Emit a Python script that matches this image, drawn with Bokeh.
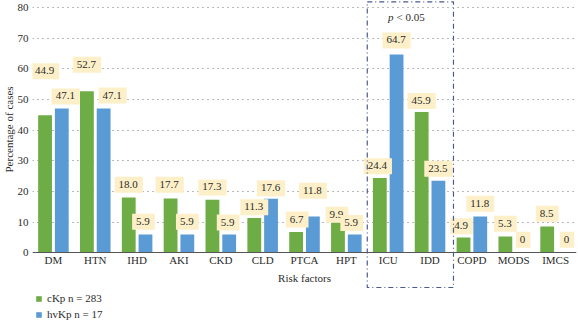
from bokeh.plotting import figure
from bokeh.models import (FactorRange, Range1d, FixedTicker, BoxAnnotation,
                          Legend, LegendItem, ColumnDataSource, CategoricalAxis, Title)
from bokeh.transform import dodge
from bokeh.core.properties import value
from bokeh.embed import file_html
from bokeh.resources import INLINE

# Share of cases per risk factor (%)
factors = ["DM", "HTN", "IHD", "AKI", "CKD", "CLD", "PTCA", "HPT",
           "ICU", "IDD", "COPD", "MODS", "IMCS"]
ckp = [44.9, 52.7, 18.0, 17.7, 17.3, 11.3, 6.7, 9.9, 24.4, 45.9, 4.9, 5.3, 8.5]
hvkp = [47.1, 47.1, 5.9, 5.9, 5.9, 17.6, 11.8, 5.9, 64.7, 23.5, 11.8, 0, 0]
y_ticks = [0, 10, 20, 30, 40, 50, 60, 70, 80]
series_names = ["cKp n = 283", "hvKp n = 17"]

# Placement of the value tags: lift above the bar (data units) and sideways nudge (px)
ckp_lift = [14.3, 8.7, 4.2, 4.5, 4.0, 3.5, 4.1, 2.5, 3.8, 3.6, 3.7, 4.1, 4.2]
hvkp_lift = [3.9, 4.2, 4.2, 4.2, 3.9, 3.4, 8.4, 3.8, 4.6, 3.9, 4.2, 4.2, 4.2]
ckp_nudge = [0, 0, 0, -1, 0, 0, 1, -1, -2, 0, -2, 0, 0]
hvkp_nudge = [4, 9, -2, 0, -1, 0, 0, -3, 0, 0, 0, 1, 3]

GREEN = "#6eac45"
BLUE = "#5b9bd5"
TAG = "#fdf0c8"
INK = "#2b2b2b"
SERIF = "Liberation Serif"
FS = "11px"


def fmt(v):
    return "0" if v == 0 else f"{v:.1f}"


src = ColumnDataSource(dict(
    cat=factors, ckp=ckp, hvkp=hvkp,
    ckp_y=[v + d for v, d in zip(ckp, ckp_lift)],
    hvkp_y=[v + d for v, d in zip(hvkp, hvkp_lift)],
    ckp_txt=[fmt(v) for v in ckp], hvkp_txt=[fmt(v) for v in hvkp],
    ckp_dx=ckp_nudge, hvkp_dx=hvkp_nudge,
))

# the plotting area runs down to the bottom edge so that the legend and the
# bracket below the baseline stay inside it
p = figure(x_range=FactorRange(factors=factors), y_range=Range1d(-22.5, 82.35),
           x_axis_location=None,
           width=578, height=321, output_backend="svg", toolbar_location=None,
           min_border_left=32, min_border_right=2, min_border_top=0,
           min_border_bottom=0)
p.outline_line_color = None
p.background_fill_color = "white"
p.border_fill_color = "white"

rg = p.vbar(x=dodge("cat", -0.2, range=p.x_range), top="ckp", width=0.33,
            source=src, fill_color=GREEN, line_color=None)
rb = p.vbar(x=dodge("cat", 0.2, range=p.x_range), top="hvkp", width=0.33,
            source=src, fill_color=BLUE, line_color=None)

tag_style = dict(text_align="center", text_baseline="middle",
                 text_font=value(SERIF), text_font_size=FS, text_color=INK,
                 background_fill_color=TAG, padding=(4, 5, 4, 5))
p.text(x=dodge("cat", -0.2, range=p.x_range), y="ckp_y", text="ckp_txt",
       x_offset="ckp_dx", source=src, **tag_style)
p.text(x=dodge("cat", 0.2, range=p.x_range), y="hvkp_y", text="hvkp_txt",
       x_offset="hvkp_dx", source=src, **tag_style)

# significance bracket around ICU / IDD
p.add_layout(BoxAnnotation(left=8.0, right=10.06, top=81.9, bottom=-11.4,
                           fill_color=None, fill_alpha=0,
                           line_color="#4a5a8c", line_alpha=1, line_width=1.2,
                           line_dash="5 3 1 3"))
p.text(x=[8.65], y=[77], text=["p"], text_align="right", text_baseline="middle",
       text_font=value(SERIF), text_font_size=FS, text_font_style="italic",
       text_color=INK, x_offset=-1)
p.text(x=[8.65], y=[77], text=["< 0.05"], text_align="left", text_baseline="middle",
       text_font=value(SERIF), text_font_size=FS, text_color=INK, x_offset=2)

# category axis drawn along the zero line
xa = CategoricalAxis(fixed_location=0)
xa.axis_line_color = "#555555"
xa.major_tick_line_color = None
xa.minor_tick_line_color = None
xa.major_tick_out = 0
xa.major_tick_in = 0
xa.major_label_text_font = SERIF
xa.major_label_text_font_size = FS
xa.major_label_text_color = INK
xa.major_label_standoff = 1
p.add_layout(xa, "below")
p.text(x=[len(factors) / 2], y=[-8.2], text=["Risk factors"], text_align="center",
       text_baseline="middle", text_font=value(SERIF), text_font_size=FS,
       text_color=INK)

ya = p.yaxis[0]
ya.ticker = FixedTicker(ticks=y_ticks)
ya.axis_line_color = None
ya.major_tick_line_color = None
ya.minor_tick_line_color = None
ya.major_tick_out = 0
ya.major_tick_in = 0
ya.major_label_text_font = SERIF
ya.major_label_text_font_size = FS
ya.major_label_text_color = INK
ya.major_label_standoff = 4

ytitle = Title(text="Percentage of cases", align="left", offset=149,
               text_font=SERIF, text_font_size=FS, text_font_style="normal",
               text_color=INK, standoff=0)
p.add_layout(ytitle, "left")

p.xgrid.grid_line_color = None
p.ygrid.ticker = FixedTicker(ticks=y_ticks[1:])
p.ygrid.grid_line_color = "#777777"
p.ygrid.grid_line_dash = "1 4"
p.ygrid.grid_line_width = 1

legend = Legend(items=[LegendItem(label=series_names[0], renderers=[rg]),
                       LegendItem(label=series_names[1], renderers=[rb])],
                location=(3, 0), orientation="vertical",
                glyph_width=7, glyph_height=7, label_height=14, label_standoff=5,
                spacing=2, padding=0, margin=0,
                label_text_font=SERIF, label_text_font_size=FS,
                label_text_color=INK, background_fill_alpha=0,
                border_line_color=None)
p.add_layout(legend)

with open("out.html", "w") as f:
    f.write(file_html(p, INLINE))
